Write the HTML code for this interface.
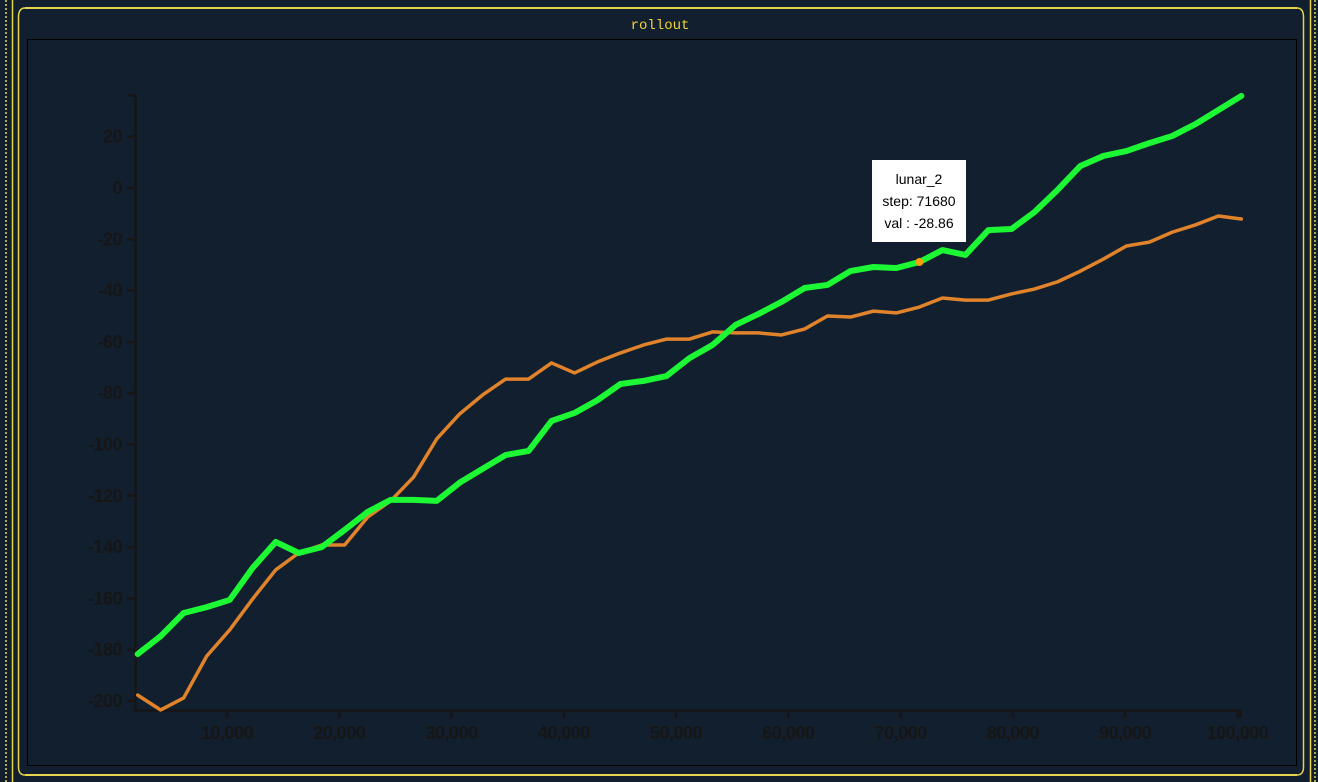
<!DOCTYPE html>
<html><head><meta charset="utf-8"><style>
html,body{margin:0;padding:0;background:#111f2f;width:1318px;height:782px;overflow:hidden;font-family:"Liberation Sans",sans-serif}
</style></head><body>
<svg width="1318" height="782" style="position:absolute;left:0;top:0">
<rect width="1318" height="782" fill="#111f2f"/>
<line x1="6" y1="0" x2="6" y2="782" stroke="#e8d44d" stroke-width="1.5" stroke-dasharray="2,2"/>
<line x1="1315" y1="0" x2="1315" y2="782" stroke="#e8d44d" stroke-width="1.5" stroke-dasharray="2,2"/>
<line x1="12.5" y1="0" x2="12.5" y2="782" stroke="#e8d44d" stroke-width="1.5"/>
<line x1="1310.5" y1="0" x2="1310.5" y2="782" stroke="#e8d44d" stroke-width="1.5"/>
<line x1="18.5" y1="16" x2="18.5" y2="768" stroke="#e8d44d" stroke-width="1.5"/>
<line x1="1303.5" y1="16" x2="1303.5" y2="768" stroke="#e8d44d" stroke-width="1.5"/>
<line x1="25" y1="8" x2="1297" y2="8" stroke="#e8d44d" stroke-width="2"/>
<line x1="25" y1="775" x2="1297" y2="775" stroke="#e8d44d" stroke-width="2"/>
<path d="M18.5 16 Q19 8 25 8 M1303.5 16 Q1303 8 1297 8 M18.5 768 Q19 775 25 775 M1303.5 768 Q1303 775 1297 775" fill="none" stroke="#e8d44d" stroke-width="1.5"/>
<text x="660" y="29" text-anchor="middle" fill="#f2d335" style="font-family:'Liberation Mono',monospace;font-size:14px">rollout</text>
<rect x="27.5" y="39.5" width="1269" height="726" fill="none" stroke="#000" stroke-width="1"/>
<g id="chart"></g>
</svg>
<div style="position:absolute;left:872px;top:160px;width:94px;height:82px;background:#fff;color:#000;font-size:14px;line-height:22px;text-align:center;padding-top:8px;box-sizing:border-box">lunar_2<br>step: 71680<br>val : -28.86</div>
<script>
const steps = Array.from({length:49},(_, i)=>(i+1)*2048);
const greenVals = [-181.7,-174.7,-165.7,-163.4,-160.6,-148.1,-138.0,-142.3,-140.0,-133.3,-126.3,-121.6,-121.6,-122.0,-114.9,-109.5,-104.1,-102.5,-90.8,-87.7,-82.7,-76.4,-75.2,-73.3,-66.3,-61.2,-53.4,-49.1,-44.4,-39.0,-37.8,-32.4,-30.8,-31.2,-28.86,-24.2,-26.1,-16.4,-16.0,-9.4,-0.8,8.6,12.5,14.4,17.5,20.3,24.9,30.4,35.9];
const orangeVals = [-197.7,-203.5,-198.8,-182.5,-172.3,-160.2,-148.9,-142.3,-139.2,-139.2,-128.3,-122.0,-112.7,-97.9,-88.1,-80.7,-74.5,-74.5,-68.2,-72.1,-67.8,-64.3,-61.2,-58.9,-58.9,-56.1,-56.5,-56.5,-57.3,-55.0,-49.9,-50.3,-48.0,-48.7,-46.4,-42.9,-43.7,-43.7,-41.3,-39.4,-36.6,-32.4,-27.7,-22.6,-21.1,-17.2,-14.4,-10.9,-12.1];
const xTicks = [10000,20000,30000,40000,50000,60000,70000,80000,90000,100000];
const yTicks = [20,0,-20,-40,-60,-80,-100,-120,-140,-160,-180,-200];
const hoverStep = 71680, hoverVal = -28.86;

const NS='http://www.w3.org/2000/svg';
const g=document.getElementById('chart');
const sx=s=>114.7+s*0.011227;
const sy=v=>188-v*2.565;
const TS='font-family:"Liberation Sans",sans-serif;font-size:18px;font-weight:bold;fill:#161616;letter-spacing:-0.5px';
function el(t,a){const e=document.createElementNS(NS,t);for(const k in a)e.setAttribute(k,a[k]);g.appendChild(e);return e;}
const ax=el('path',{d:'M127 95.5H135.5V710.5H1240.5V718',fill:'none',stroke:'#161616','stroke-width':2.5});


yTicks.forEach(v=>{
  const y=sy(v);
  const t=el('line',{x1:127,x2:135,y1:y,y2:y,stroke:'#161616','stroke-width':2.5});
  
  
  const l=el('text',{x:122,y:y+6,'text-anchor':'end'});
  l.setAttribute('style',TS);
  l.textContent=String(v);
  
  
});
xTicks.forEach(s=>{
  const x=sx(s);
  const t=el('line',{x1:x,x2:x,y1:710,y2:718,stroke:'#161616','stroke-width':2.5});
  
  
  const l=el('text',{x:x,y:739,'text-anchor':'middle'});
  l.setAttribute('style',TS);
  l.textContent=s.toLocaleString('en-US');
  
  
});
function line(vals,color,w,name){
  const p=el('polyline',{points:vals.map((v,i)=>sx(steps[i])+','+sy(v)).join(' '),fill:'none',stroke:color,'stroke-width':w,'stroke-linejoin':'round','stroke-linecap':'round'});
  
  
}
line(orangeVals,'#e0832a',3.5,'series-orange');
line(greenVals,'#1cf834',6,'series-lunar-2');
const d=el('circle',{cx:sx(hoverStep),cy:sy(hoverVal),r:4,fill:'#f5a00c'});


</script>
</body></html>
